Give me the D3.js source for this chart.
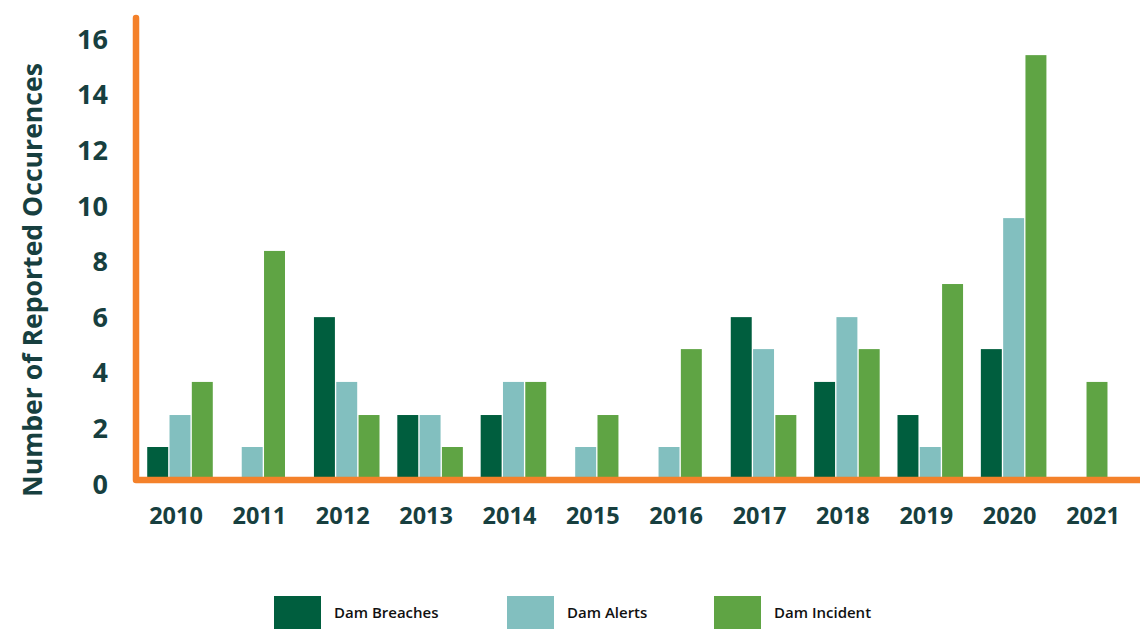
<!DOCTYPE html>
<meta charset="utf-8">
<head>
  <style>
    body { margin: 0; background: #fff; }
    .tick-label, .year-label, .y-title {
      font-family: "Open Sans", sans-serif;
      font-weight: bold;
      fill: #173f3f;
    }
    .legend-label {
      font-family: "Open Sans", sans-serif;
      font-weight: 600;
      font-size: 15px;
      fill: #111;
    }
  </style>
</head>
<body>
<svg id="chart" width="1140" height="629"></svg>
<script src="https://d3js.org/d3.v7.min.js"></script>
<script>

var years = ["2010", "2011", "2012", "2013", "2014", "2015", "2016", "2017", "2018", "2019", "2020", "2021"];
var seriesKeys = ["breaches", "alerts", "incident"];
var seriesNames = ["Dam Breaches", "Dam Alerts", "Dam Incident"];
var yTicks = [0, 2, 4, 6, 8, 10, 12, 14, 16];

// heights as read against the printed axis
var breaches = [1.33, 0, 6.0, 2.48, 2.48, 0, 0, 6.0, 3.67, 2.48, 4.85, 0];
var alerts   = [2.48, 1.33, 3.67, 2.48, 3.67, 1.33, 1.33, 4.85, 6.0, 1.33, 9.56, 0];
var incident = [3.67, 8.38, 2.48, 1.33, 3.67, 2.48, 4.85, 2.48, 4.85, 7.19, 15.42, 3.67];

var color = d3.scaleOrdinal()
    .domain(seriesKeys)
    .range(["#005e3e", "#82bfbf", "#5fa444"]);

var orange = "#f4812a";

var values = { breaches: breaches, alerts: alerts, incident: incident };
var rows = years.map(function(yr, i) {
  return { year: yr, bars: seriesKeys.map(function(k) { return { key: k, value: values[k][i] }; })
                                     .filter(function(b) { return b.value > 0; }) };
});

var svg = d3.select("#chart");

var y = d3.scaleLinear()
    .domain([0, 16])
    .range([484, 39]);

var x = d3.scalePoint()
    .domain(years)
    .range([180, 1097]);

var pitch = 22.3; // width of one bar slot inside a group
var baseY = 480;

// bars, zero values dropped so groups stay centred
var groups = svg.selectAll(".year")
  .data(rows)
  .enter().append("g")
    .attr("class", "year")
    .attr("transform", function(d) { return "translate(" + x(d.year) + ",0)"; });

groups.each(function(d) {
  var inner = d3.scaleBand()
      .domain(d.bars.map(function(b) { return b.key; }))
      .range([-d.bars.length * pitch / 2, d.bars.length * pitch / 2])
      .paddingInner(0.06)
      .paddingOuter(0.03);

  d3.select(this).selectAll("rect")
    .data(d.bars)
    .enter().append("rect")
      .attr("x", function(b) { return inner(b.key); })
      .attr("y", function(b) { return y(b.value); })
      .attr("width", inner.bandwidth())
      .attr("height", function(b) { return baseY - y(b.value); })
      .attr("fill", function(b) { return color(b.key); });
});

// orange axis lines
svg.append("path")
    .attr("d", "M136,18L136," + baseY + "L1140," + baseY)
    .attr("fill", "none")
    .attr("stroke", orange)
    .attr("stroke-width", 6.5)
    .attr("stroke-linecap", "round")
    .attr("stroke-linejoin", "round");

// y tick labels
svg.selectAll(".tick-label")
  .data(yTicks)
  .enter().append("text")
    .attr("class", "tick-label")
    .attr("x", 108)
    .attr("y", function(d) { return y(d); })
    .attr("dy", "0.36em")
    .attr("text-anchor", "end")
    .style("font-size", "27px")
    .text(function(d) { return d; });

// year labels
svg.selectAll(".year-label")
  .data(years)
  .enter().append("text")
    .attr("class", "year-label")
    .attr("x", function(d) { return x(d) - 4; })
    .attr("y", 524)
    .attr("text-anchor", "middle")
    .style("font-size", "23.5px")
    .text(function(d) { return d; });

svg.append("text")
    .attr("class", "y-title")
    .attr("transform", "translate(42,280) rotate(-90)")
    .attr("text-anchor", "middle")
    .style("font-size", "26.6px")
    .text("Number of Reported Occurences");

// legend
var legendX = [274, 507, 714];
var legend = svg.selectAll(".legend")
  .data(seriesKeys)
  .enter().append("g")
    .attr("class", "legend")
    .attr("transform", function(d, i) { return "translate(" + legendX[i] + ",596)"; });

legend.append("rect")
    .attr("width", 47)
    .attr("height", 34)
    .attr("fill", function(d) { return color(d); });

legend.append("text")
    .attr("class", "legend-label")
    .attr("x", 60)
    .attr("y", 22)
    .text(function(d, i) { return seriesNames[i]; });

</script>
</body>
